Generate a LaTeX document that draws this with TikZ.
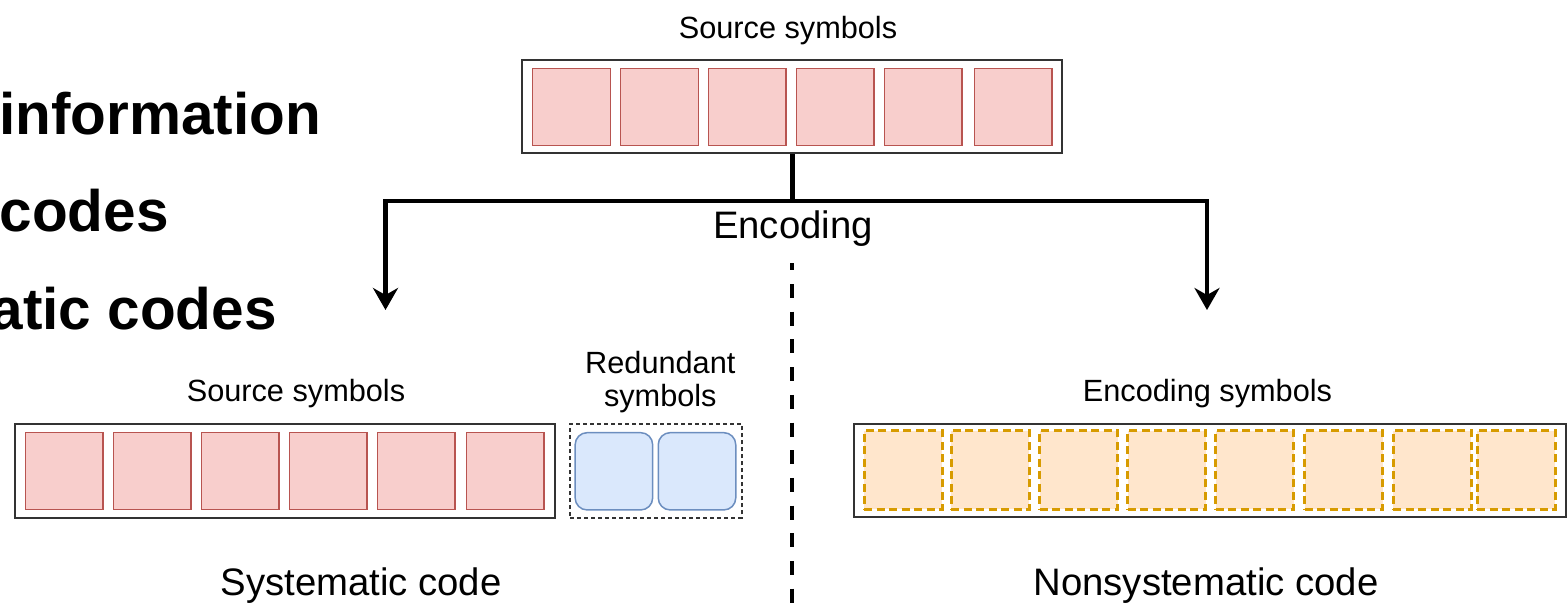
\documentclass[tikz,border=0pt]{standalone}
\usepackage{fontspec}
\setmainfont{Liberation Sans}
\usetikzlibrary{arrows.meta}

\definecolor{srcfill}{HTML}{F8CECC}
\definecolor{srcdraw}{HTML}{B85450}
\definecolor{redfill}{HTML}{DAE8FC}
\definecolor{reddraw}{HTML}{6C8EBF}
\definecolor{encfill}{HTML}{FFE6CC}
\definecolor{encdraw}{HTML}{D79B00}
\definecolor{framecol}{HTML}{333333}

\tikzset{
  frame/.style={draw=framecol, line width=2pt, fill=white, inner sep=0pt},
  srcsq/.style={draw=srcdraw, fill=srcfill, line width=1.5pt, inner sep=0pt,
    minimum width=77.7pt, minimum height=77.4pt},
  redsq/.style={draw=reddraw, fill=redfill, line width=1.5pt, inner sep=0pt,
    rounded corners=12pt, minimum width=77.5pt, minimum height=77.3pt},
  encsq/.style={draw=encdraw, fill=encfill, line width=3pt, inner sep=0pt,
    dash pattern=on 8pt off 4.5pt, minimum width=78pt, minimum height=78.5pt},
  dotframe/.style={draw=framecol, line width=2pt, inner sep=0pt,
    dash pattern=on 4pt off 3pt},
  smalllbl/.style={inner sep=0pt, anchor=base, font=\fontsize{30.7pt}{33.7pt}\selectfont},
  biglbl/.style={inner sep=0pt, anchor=base, font=\fontsize{38.3pt}{44pt}\selectfont},
  headline/.style={inner sep=0pt, anchor=base east, font=\fontsize{58.5pt}{68pt}\selectfont\bfseries},
  conn/.style={line width=4.5pt, line join=miter},
  arr/.style={conn, -{Stealth[length=22pt, width=25pt, inset=7pt]}},
  divider/.style={line width=4pt, dash pattern=on 14pt off 13.7pt, dash phase=6.7pt}
}

\begin{document}
\begin{tikzpicture}[x=1pt, y=-1pt]
  \useasboundingbox (0,0) rectangle (1568,613);
  \clip (0,0) rectangle (1568,613);

  % bullet headings along the left edge
  \node[headline] (h1) at (321,134) {information};
  \node[headline] (h2) at (169,231) {codes};
  \node[headline] (h3) at (277,329) {atic codes};

  % source block at the top
  \node[smalllbl] (toplbl) at (788,38) {Source symbols};
  \node[frame, minimum width=540pt, minimum height=93pt] (src) at (792,106.5) {};
  \foreach \cx [count=\i] in {571.4,659.4,747.3,835.3,923.1,1013.2}
    \node[srcsq] (s\i) at (\cx,107) {};

  % branching into the two kinds of code
  \coordinate (j) at (792.5,201);
  \coordinate (tipL) at (385.5,310);
  \coordinate (tipR) at (1207,310);
  \draw[conn] (src.south -| j) -- (j);
  \draw[arr] (j) -| (tipL);
  \draw[arr] (j) -| (tipR);
  \node[biglbl] (enc) at (793,238) {Encoding};

  % dashed divider between the two cases
  \coordinate (dtop) at (792,263);
  \coordinate (dbot) at (792,613);
  \draw[divider] (dtop) -- (dbot);

  % systematic code
  \node[smalllbl] (sl) at (296,401.5) {Source symbols};
  \node[frame, minimum width=540.5pt, minimum height=93.5pt] (sys) at (284.8,470.8) {};
  \foreach \cx [count=\i] in {64,152,240.2,328,416,505.1}
    \node[srcsq, minimum width=77.5pt, minimum height=76.6pt] (t\i) at (\cx,471) {};
  \node[smalllbl, align=center] (rl) at (660.3,406.7) {Redundant\\symbols};
  \node[dotframe, minimum width=171.7pt, minimum height=93.5pt] (red) at (655.9,470.8) {};
  \node[redsq] (r1) at (613.9,471.3) {};
  \node[redsq] (r2) at (697,471.3) {};
  \node[biglbl] (syslbl) at (361,595) {Systematic code};

  % nonsystematic code
  \node[smalllbl] (el) at (1207.5,401.7) {Encoding symbols};
  \node[frame, minimum width=712pt, minimum height=93.3pt] (non) at (1210,470.7) {};
  \foreach \cx [count=\i] in {903,990.4,1078.6,1166.8,1254.5,1343.7,1432.4,1516.1}
    \node[encsq] (e\i) at (\cx,470) {};
  \node[biglbl] (nonlbl) at (1206,595) {Nonsystematic code};
\end{tikzpicture}
\end{document}
